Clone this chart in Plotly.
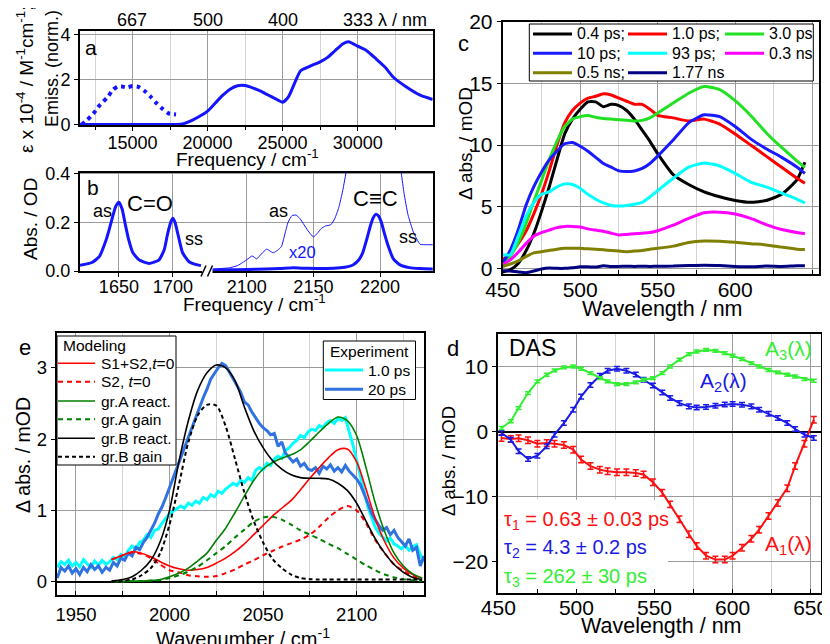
import plotly.graph_objects as go

# page body has an 8 px default margin; figure is sized so that it fills the 830x644 window
OFF = 8
W, H = 830 - OFF, 644 - OFF
def PX(x): return (x - OFF) / W
def PY(y): return 1 - (y - OFF) / H

FONT = "Liberation Sans, Arial, Helvetica, sans-serif"
GRID = "#9b9b9b"
MINOR = "#d3d3d3"
BLUE = "#1414ff"

# ================= (a) UV-vis absorption / emission =================
a_abs_freq = [11500, 14000, 16500, 17800, 18400, 19000, 19500, 20000, 20500, 21000, 21500, 22000, 22500,
              23000, 23500, 24000, 24500, 25000, 25400, 25800, 26200, 26800, 27500, 28000, 28500, 29000,
              29400, 30000, 30600, 31200, 31800, 32400, 33200, 34200, 35000]
a_abs_val = [0.0, 0.0, 0.0, 0.0, 0.04, 0.2, 0.38, 0.6, 0.95, 1.3, 1.58, 1.73, 1.74,
             1.64, 1.5, 1.33, 1.16, 1.0, 1.25, 1.85, 2.4, 2.6, 2.8, 3.0, 3.3, 3.6,
             3.7, 3.5, 3.3, 2.95, 2.58, 2.1, 1.7, 1.3, 1.12]
a_em_freq = [11600, 12000, 12400, 12800, 13300, 13700, 14000, 14300, 14600, 15000, 15400, 15800, 16200,
             16600, 17000, 17400, 17900]
a_em_val = [0.0, 0.22, 0.5, 0.85, 1.2, 1.55, 1.7, 1.7, 1.66, 1.72, 1.68, 1.5, 1.25, 0.95, 0.7, 0.5, 0.45]
a_xticks = [15000, 20000, 25000, 30000]
a_xminor = [12500, 17500, 22500, 27500, 32500]
a_top_nm = ["667", "500", "400", "333"]

# ================= (b) IR absorption =================
b_co_freq = [1614, 1625, 1632, 1638, 1641, 1644, 1647, 1650, 1653, 1656, 1659, 1663, 1669, 1678, 1687, 1692,
             1695, 1698, 1700, 1702, 1705, 1709, 1715, 1720, 1726]
b_co_abs = [0.024, 0.035, 0.06, 0.125, 0.17, 0.22, 0.265, 0.283, 0.255, 0.19, 0.13, 0.075, 0.045, 0.031, 0.045,
            0.087, 0.15, 0.2, 0.217, 0.2, 0.145, 0.075, 0.038, 0.028, 0.022]
b_cc_freq = [2073, 2085, 2100, 2115, 2125, 2135, 2145, 2160, 2170, 2176, 2180, 2184, 2187, 2190, 2193, 2195,
             2197, 2199, 2201, 2203, 2206, 2210, 2215, 2222, 2230, 2240]
b_cc_abs = [0.004, 0.005, 0.006, 0.008, 0.01, 0.013, 0.011, 0.01, 0.013, 0.018, 0.026, 0.045, 0.075, 0.13,
            0.19, 0.22, 0.233, 0.225, 0.2, 0.16, 0.105, 0.05, 0.025, 0.014, 0.01, 0.008]
b_x20_freq = [2073, 2080, 2087, 2093, 2097, 2101, 2104, 2107.5, 2111, 2115, 2118, 2120, 2123, 2126, 2129,
              2131, 2134, 2137, 2140, 2143, 2146, 2150, 2153, 2156, 2159, 2163, 2166, 2169, 2172, 2175,
              2178, 2183, 2188, 2193, 2197, 2201, 2206, 2210, 2213, 2216, 2218, 2221, 2225, 2230, 2235, 2240]
b_x20_abs = [0.006, 0.01, 0.013, 0.022, 0.035, 0.05, 0.062, 0.05, 0.07, 0.09, 0.08, 0.075, 0.085, 0.1, 0.16,
             0.2, 0.228, 0.23, 0.215, 0.19, 0.165, 0.14, 0.155, 0.175, 0.185, 0.19, 0.215, 0.26, 0.33, 0.42,
             0.5, 0.9, 1.8, 3.9, 4.6, 4.0, 2.1, 0.9, 0.55, 0.4, 0.32, 0.23, 0.16, 0.11, 0.108, 0.108]

# ================= (c) transient absorption spectra =================
c_wl = [450, 455, 460, 465, 470, 475, 480, 485, 490, 495, 500, 505, 510, 515, 520, 525, 530, 535, 540, 545,
        550, 560, 570, 580, 590, 600, 610, 620, 630, 640, 645]
c_names = ["0.4 ps;", "1.0 ps;", "3.0 ps", "10 ps;", "93 ps;", "0.3 ns", "0.5 ns;", "1.77 ns"]
c_colors = ["#000000", "#ff0000", "#22e022", "#1a1aff", "#00ffff", "#ff00ff", "#808000", "#000080"]
c_0p4ps = [-0.3, -0.1, 0.4, 1.4, 2.8, 4.6, 6.6, 8.8, 10.9, 12.1, 12.9, 13.5, 13.5, 13.1, 13.3, 13.2, 12.8,
           12.1, 11.2, 10.3, 9.3, 7.6, 6.8, 6.2, 5.8, 5.5, 5.35, 5.5, 6.0, 7.2, 8.6]
c_1p0ps = [0.7, 1.2, 2.0, 3.0, 4.4, 6.0, 7.9, 10.0, 11.8, 12.8, 13.4, 13.8, 13.95, 14.15, 14.05, 13.8, 13.55,
           13.3, 13.3, 12.9, 12.4, 12.2, 11.95, 12.1, 11.7, 10.9, 10.0, 9.1, 8.2, 7.3, 6.9]
c_3p0ps = [0.4, 1.0, 2.1, 3.6, 5.4, 7.1, 8.8, 10.3, 11.5, 12.1, 12.3, 12.4, 12.25, 12.15, 12.1, 12.05, 12.0,
           11.95, 12.0, 12.2, 12.6, 13.4, 14.2, 14.75, 14.5, 13.6, 12.4, 11.0, 9.8, 8.7, 8.2]
c_10ps = [0.4, 1.5, 3.1, 5.1, 6.6, 7.8, 8.8, 9.5, 10.1, 10.2, 9.9, 9.5, 9.0, 8.5, 8.2, 7.9, 7.85, 7.9, 8.1,
          8.5, 9.1, 10.4, 11.8, 12.45, 12.3, 11.5, 10.5, 9.7, 9.0, 8.2, 7.7]
c_93ps = [1.1, 1.1, 2.6, 4.2, 5.3, 6.0, 6.2, 6.6, 6.85, 6.8, 6.5, 6.0, 5.6, 5.3, 5.1, 5.05, 5.1, 5.2, 5.35,
          5.8, 6.3, 7.3, 8.2, 8.55, 8.3, 7.7, 7.0, 6.6, 6.1, 5.6, 5.3]
c_0p3ns = [0.3, 0.7, 1.3, 2.0, 2.6, 2.9, 3.1, 3.3, 3.4, 3.4, 3.35, 3.2, 3.1, 3.0, 2.85, 2.7, 2.75, 2.8, 2.85,
           2.9, 3.05, 3.5, 4.05, 4.5, 4.55, 4.4, 4.05, 3.55, 3.15, 2.9, 2.8]
c_0p5ns = [0.15, 0.35, 0.6, 0.95, 1.25, 1.35, 1.45, 1.55, 1.62, 1.63, 1.62, 1.58, 1.55, 1.5, 1.45, 1.4, 1.35,
           1.4, 1.45, 1.55, 1.62, 1.8, 2.1, 2.22, 2.2, 2.12, 2.0, 1.9, 1.72, 1.55, 1.52]
c_1p77ns = [-0.2, -0.22, -0.3, -0.35, -0.22, -0.05, 0.03, 0.0, 0.0, 0.05, 0.12, 0.12, 0.1, 0.2, 0.15, 0.15,
            0.17, 0.15, 0.17, 0.15, 0.17, 0.18, 0.22, 0.25, 0.22, 0.15, 0.12, 0.18, 0.15, 0.2, 0.2]
c_series = [c_0p4ps, c_1p0ps, c_3p0ps, c_10ps, c_93ps, c_0p3ns, c_0p5ns, c_1p77ns]

# ================= (e) IR transient spectra + modeling =================
e_wn = [1940, 1942, 1944, 1946, 1948, 1950, 1952, 1954, 1956, 1958, 1960, 1962, 1964, 1966, 1968, 1970,
        1972, 1974, 1976, 1978, 1980, 1982, 1984, 1986, 1988, 1990, 1992, 1994, 1996, 1998, 2000, 2002,
        2004, 2006, 2008, 2010, 2012, 2014, 2016, 2018, 2020, 2022, 2024, 2026, 2028, 2030, 2032, 2034,
        2036, 2038, 2040, 2042, 2044, 2046, 2048, 2050, 2052, 2054, 2056, 2058, 2060, 2062, 2064, 2066,
        2068, 2070, 2072, 2074, 2076, 2078, 2080, 2082, 2084, 2086, 2088, 2090, 2092, 2094, 2096, 2098,
        2100, 2102, 2104, 2106, 2108, 2110, 2112, 2114, 2116, 2118, 2120, 2122, 2124, 2126, 2128, 2130,
        2132, 2134, 2136]
e_exp_1ps = [0.20, 0.28, 0.24, 0.30, 0.22, 0.27, 0.21, 0.31, 0.25, 0.20, 0.29, 0.23, 0.30, 0.24, 0.28, 0.34,
             0.31, 0.38, 0.35, 0.44, 0.50, 0.46, 0.55, 0.58, 0.66, 0.62, 0.72, 0.74, 0.82, 0.88, 0.95, 0.99,
             1.02, 1.06, 1.03, 1.10, 1.07, 1.13, 1.10, 1.18, 1.15, 1.22, 1.19, 1.27, 1.24, 1.30, 1.34, 1.38,
             1.35, 1.42, 1.39, 1.46, 1.42, 1.56, 1.60, 1.57, 1.66, 1.63, 1.72, 1.76, 1.73, 1.84, 1.88, 1.94,
             1.98, 2.05, 2.02, 2.10, 2.14, 2.12, 2.19, 2.16, 2.23, 2.26, 2.22, 2.29, 2.26, 2.30, 2.10, 1.92,
             1.70, 1.48, 1.25, 1.05, 0.90, 0.76, 0.68, 0.63, 0.57, 0.61, 0.53, 0.50, 0.46, 0.51, 0.44, 0.49,
             0.52, 0.38, 0.28]
e_exp_20ps = [0.05, 0.20, 0.15, 0.22, 0.12, 0.18, 0.10, 0.20, 0.14, 0.24, 0.17, 0.22, 0.13, 0.20, 0.16, 0.27,
              0.22, 0.33, 0.30, 0.40, 0.36, 0.48, 0.45, 0.55, 0.62, 0.72, 0.82, 0.95, 1.05, 1.18, 1.32, 1.45,
              1.60, 1.75, 1.88, 2.02, 2.16, 2.30, 2.45, 2.58, 2.70, 2.84, 2.92, 3.00, 3.06, 3.03, 2.94, 2.84,
              2.74, 2.66, 2.52, 2.48, 2.38, 2.30, 2.22, 2.16, 2.12, 2.06, 2.08, 1.90, 1.96, 1.80, 1.74, 1.68,
              1.72, 1.62, 1.66, 1.58, 1.56, 1.60, 1.52, 1.62, 1.58, 1.64, 1.55, 1.60, 1.54, 1.63, 1.55, 1.50,
              1.44, 1.36, 1.24, 1.10, 0.96, 0.86, 0.78, 0.72, 0.76, 0.66, 0.72, 0.62, 0.56, 0.50, 0.60, 0.44,
              0.48, 0.22, 0.36]
e_mod_wn = [1969, 1975, 1980, 1985, 1990, 1995, 2000, 2005, 2010, 2015, 2020, 2025, 2030, 2035, 2040, 2045,
            2050, 2055, 2060, 2065, 2070, 2075, 2080, 2085, 2090, 2095, 2100, 2105, 2110, 2115, 2120, 2125,
            2130, 2135]
e_s1s2 = [0.31, 0.37, 0.42, 0.40, 0.35, 0.28, 0.22, 0.18, 0.16, 0.17, 0.20, 0.26, 0.33, 0.42, 0.53, 0.66,
          0.79, 0.92, 1.03, 1.14, 1.29, 1.45, 1.60, 1.74, 1.85, 1.86, 1.68, 1.30, 0.88, 0.56, 0.33, 0.19,
          0.10, 0.05]
e_s2 = [0.31, 0.37, 0.41, 0.39, 0.33, 0.24, 0.16, 0.13, 0.09, 0.075, 0.07, 0.08, 0.12, 0.17, 0.24, 0.30,
        0.37, 0.43, 0.49, 0.54, 0.59, 0.66, 0.77, 0.90, 1.00, 1.06, 1.00, 0.82, 0.58, 0.40, 0.24, 0.15,
        0.08, 0.04]
e_grA_react = [0.0, 0.003, 0.006, 0.01, 0.016, 0.03, 0.07, 0.12, 0.19, 0.29, 0.40, 0.58, 0.75, 0.97, 1.20,
               1.42, 1.58, 1.67, 1.73, 1.78, 1.85, 1.97, 2.10, 2.22, 2.31, 2.26, 2.05, 1.60, 1.10, 0.70,
               0.40, 0.22, 0.11, 0.05]
e_grA_gain = [0.0, 0.003, 0.006, 0.01, 0.016, 0.025, 0.05, 0.09, 0.14, 0.21, 0.30, 0.40, 0.50, 0.62, 0.73,
              0.84, 0.90, 0.91, 0.87, 0.80, 0.72, 0.66, 0.60, 0.53, 0.47, 0.39, 0.31, 0.23, 0.16, 0.10,
              0.06, 0.035, 0.02, 0.01]
e_grB_react = [0.01, 0.03, 0.07, 0.16, 0.30, 0.56, 1.00, 1.68, 2.25, 2.68, 2.93, 3.04, 3.00, 2.82, 2.45,
               2.12, 1.88, 1.70, 1.58, 1.50, 1.46, 1.45, 1.45, 1.44, 1.38, 1.28, 1.10, 0.85, 0.60, 0.40,
               0.24, 0.13, 0.06, 0.03]
e_grB_gain = [0.0, 0.01, 0.03, 0.09, 0.19, 0.40, 0.80, 1.36, 1.95, 2.33, 2.48, 2.47, 2.18, 1.72, 1.25, 0.85,
              0.55, 0.32, 0.19, 0.10, 0.05, 0.035, 0.03, 0.03, 0.03, 0.03, 0.03, 0.03, 0.03, 0.03, 0.03,
              0.03, 0.03, 0.02]
e_mod_names = ["S1+S2,<i>t</i>=0", "S2, <i>t</i>=0", "gr.A react.", "gr.A gain", "gr.B react.", "gr.B gain"]
e_mod_colors = ["#ff0000", "#ff0000", "#008000", "#008000", "#000000", "#000000"]
e_mod_dash = ["solid", "5px,4px", "solid", "5px,4px", "solid", "4px,3px"]
e_mod_series = [e_s1s2, e_s2, e_grA_react, e_grA_gain, e_grB_react, e_grB_gain]
e_exp_names = ["1.0 ps", "20 ps"]
e_exp_colors = ["#00ffff", "#2f72e0"]
e_exp_series = [e_exp_1ps, e_exp_20ps]

# ================= (d) decay-associated spectra =================
d_wl = [452, 458, 463, 469, 475, 481, 486, 492, 498, 503, 509, 515, 520, 526, 532, 538, 543, 549, 555, 560,
        566, 572, 577, 583, 589, 595, 600, 606, 612, 617, 623, 629, 635, 640, 646, 652]
d_A1 = [-0.97, -1.13, -1.0, -1.33, -1.85, -1.74, -1.85, -2.05, -2.77, -4.3, -5.3, -5.85, -6.1, -6.26, -6.26,
        -6.36, -6.6, -7.8, -9.4, -11.2, -13.5, -15.8, -17.6, -19.1, -19.7, -19.7, -19.1, -17.9, -16.5, -15.1,
        -13.0, -11.0, -8.7, -5.3, -1.85, 1.85]
d_A2 = [-0.2, -1.23, -3.0, -4.2, -3.7, -2.26, -0.46, 1.33, 3.38, 5.4, 7.2, 8.6, 9.4, 9.7, 9.4, 8.8, 8.0, 7.1,
        6.05, 5.2, 4.4, 3.9, 3.74, 3.8, 4.0, 4.2, 4.26, 4.15, 3.9, 3.38, 2.77, 2.1, 1.33, 0.41, -0.46, -0.97]
d_A3 = [0.56, 1.6, 3.64, 5.95, 7.74, 8.77, 9.44, 9.9, 10.05, 9.7, 9.03, 8.26, 7.74, 7.33, 7.33, 7.6, 8.0, 8.26,
        9.03, 10.05, 11.1, 11.95, 12.36, 12.6, 12.46, 12.1, 11.7, 11.2, 10.56, 10.05, 9.5, 9.13, 8.77, 8.5,
        8.1, 7.85]
d_err = [0.5, 0.35, 0.22]
d_colors = ["#ff1010", "#1a1ae6", "#33ee33"]
d_series = [d_A1, d_A2, d_A3]

# ======================================================================
fig = go.Figure()

def line_trace(x, y, xa, ya, color, width, dash="solid", smooth=0.6):
    return go.Scatter(x=x, y=y, xaxis=xa, yaxis=ya, mode="lines", showlegend=False, hoverinfo="skip",
                      line=dict(color=color, width=width, dash=dash, shape="spline", smoothing=smooth))

# (a)
fig.add_trace(line_trace(a_em_freq, a_em_val, "x", "y", BLUE, 4, dash="4px,4px"))
fig.add_trace(line_trace(a_abs_freq, a_abs_val, "x", "y", BLUE, 3))
# (b)
fig.add_trace(line_trace(b_co_freq, b_co_abs, "x3", "y3", BLUE, 3, smooth=0.5))
fig.add_trace(line_trace(b_x20_freq, b_x20_abs, "x4", "y4", BLUE, 1, smooth=0.4))
fig.add_trace(line_trace(b_cc_freq, b_cc_abs, "x4", "y4", BLUE, 3, smooth=0.5))
# (c)
for vals, col in zip(c_series, c_colors):
    fig.add_trace(line_trace(c_wl, vals, "x5", "y5", col, 3, smooth=0.5))
# (e)
for vals, col in zip(e_exp_series, e_exp_colors):
    fig.add_trace(go.Scatter(x=e_wn, y=vals, xaxis="x6", yaxis="y6", mode="lines", showlegend=False,
                             hoverinfo="skip", line=dict(color=col, width=3)))
for vals, col, dsh in zip(e_mod_series, e_mod_colors, e_mod_dash):
    fig.add_trace(line_trace(e_mod_wn, vals, "x6", "y6", col, 1.6 if dsh == "solid" else 2, dash=dsh, smooth=0.8))
# (d)
for vals, col, err in zip(d_series, d_colors, d_err):
    fig.add_trace(go.Scatter(x=d_wl, y=vals, xaxis="x7", yaxis="y7", mode="lines", showlegend=False,
                             hoverinfo="skip", line=dict(color=col, width=2),
                             error_y=dict(type="constant", value=err, color=col, thickness=1.5, width=3)))

# ---------------- axes ----------------
def ax(size=18, **kw):
    d = dict(showline=True, linecolor="black", linewidth=2, mirror=True, showgrid=True, gridcolor=GRID,
             gridwidth=1, zeroline=False, ticks="outside", ticklen=4, tickcolor="black", tickwidth=1,
             tickfont=dict(family=FONT, size=size, color="black"), fixedrange=True, automargin=False,
             tickformat="d")
    d.update(kw)
    return d

fig.update_layout(
    xaxis=ax(domain=[PX(80), PX(432.7)], range=[11500, 35000], anchor="y", tickmode="array",
             tickvals=a_xticks, layer="below traces", ticklabelstandoff=-4,
             minor=dict(tickmode="array", tickvals=a_xminor, showgrid=True, gridcolor=MINOR, ticks="outside",
                        ticklen=3, tickcolor="black")),
    yaxis=ax(domain=[PY(125), PY(30.5)], range=[-0.02, 4.2], anchor="x", tickmode="array",
             tickvals=[0, 2, 4], layer="below traces"),
    xaxis3=ax(domain=[PX(80), PX(207)], range=[1614, 1731.6], anchor="y3", tickmode="array",
              tickvals=[1650, 1700], layer="below traces", ticklabelstandoff=-6),
    yaxis3=ax(domain=[PY(271), PY(172.5)], range=[0, 0.405], anchor="x3", mirror=False, tickmode="array",
              tickvals=[0, 0.2, 0.4], ticktext=["0.0", "0.2", "0.4"], layer="below traces", tickformat=None),
    xaxis4=ax(domain=[PX(207), PX(432.7)], range=[2070.2, 2239.5], anchor="y4", tickmode="array",
              tickvals=[2100, 2150, 2200], layer="below traces", ticklabelstandoff=-6),
    yaxis4=ax(domain=[PY(271), PY(172.5)], range=[0, 0.405], anchor="x4", side="right", mirror=False,
              showticklabels=False, ticks="", tickmode="array", tickvals=[0, 0.2, 0.4], layer="below traces",
              tickformat=None),
    xaxis5=ax(size=21, domain=[PX(502.7), PX(819.3)], range=[450, 654.3], anchor="y5", tickmode="array",
              tickvals=[450, 500, 550, 600, 650], ticks="inside", ticklabelstandoff=-4,
              minor=dict(tickmode="array", tickvals=[475, 525, 575, 625], showgrid=True, gridcolor=MINOR,
                         ticks="inside", ticklen=4, tickcolor="black")),
    yaxis5=ax(size=21, domain=[PY(274), PY(21.7)], range=[-0.46, 20], anchor="x5", tickmode="array",
              tickvals=[0, 5, 10, 15, 20]),
    xaxis6=ax(size=18.5, domain=[PX(56.7), PX(424)], range=[1939.7, 2136], anchor="y6", tickmode="array",
              tickvals=[1950, 2000, 2050, 2100], ticks="inside", ticklabelstandoff=2,
              minor=dict(tickmode="array", tickvals=[1975, 2025, 2075, 2125], showgrid=True, gridcolor=MINOR,
                         ticks="inside", ticklen=4, tickcolor="black")),
    yaxis6=ax(size=18.5, domain=[PY(595), PY(333.3)], range=[-0.187, 3.484], anchor="x6", tickmode="array",
              tickvals=[0, 1, 2, 3], zeroline=True, zerolinecolor="black", zerolinewidth=2),
    xaxis7=ax(size=21, domain=[PX(498.3), PX(820.7)], range=[450, 656.4], anchor="y7", tickmode="array",
              tickvals=[450, 500, 550, 600, 650], ticks="inside", ticklabelstandoff=-6,
              minor=dict(tickmode="array", tickvals=[475, 525, 575, 625], showgrid=True, gridcolor=MINOR,
                         ticks="inside", ticklen=4, tickcolor="black")),
    yaxis7=ax(size=21, domain=[PY(593.3), PY(334)], range=[-24.9, 15.05], anchor="x7", tickmode="array",
              tickvals=[-20, -10, 0, 10], zeroline=True, zerolinecolor="black", zerolinewidth=1.5),
)

# ---------------- annotations ----------------
anns = []
def ann(text, x, y, size, color="black", angle=0, xanchor="center", xref="paper"):
    anns.append(dict(text=text, x=x if xref != "paper" else PX(x), y=PY(y), xref=xref, yref="paper",
                     showarrow=False, textangle=angle, xanchor=xanchor, yanchor="middle",
                     font=dict(family=FONT, size=size, color=color)))

# (a)
ann("a", 91, 47, 21)
for nm in a_top_nm:
    ann(nm, 1e7 / float(nm), 20.5, 18, xref="x")
ann("λ / nm", 376, 20.5, 18, xanchor="left")
ann("ε x 10<sup>-4</sup> / M<sup>-1</sup>cm<sup>-1</sup>;", 25, 80, 19, angle=-90)
ann("Emiss. (norm.)", 52, 69, 18, angle=-90)
ann("Frequency / cm<sup>-1</sup>", 248, 158, 19)
# (b)
ann("b", 93, 188, 21)
ann("as", 102, 211, 18)
ann("C=O", 150, 203, 22)
ann("ss", 194, 239, 18)
ann("as", 278, 211, 18)
ann("x20", 302, 252, 16.5, color=BLUE)
ann("C≡C", 375, 198, 22)
ann("ss", 408, 237, 18)
ann("Abs. / OD", 30, 219, 19, angle=-90)
ann("Frequency / cm<sup>-1</sup>", 254, 303, 19)
# (c)
ann("c", 463, 43, 22)
ann("Δ abs. / mOD", 466, 144, 19, angle=-90)
ann("Wavelength / nm", 662, 309, 21.5)
# (e)
ann("e", 25, 347, 22)
ann("Δ abs. / mOD", 23, 455, 19.5, angle=-90)
ann("Wavenumber / cm<sup>-1</sup>", 243, 637, 20)
# (d)
ann("d", 453, 348, 22)
ann("DAS", 532, 348, 23)
ann("A<sub>3</sub>(λ)", 788, 350, 21, color=d_colors[2])
ann("A<sub>2</sub>(λ)", 723, 382, 21, color=d_colors[1])
ann("A<sub>1</sub>(λ)", 788, 545, 21, color=d_colors[0])
ann("τ<sub>1</sub> = 0.63 ± 0.03 ps", 502, 520, 20, color=d_colors[0], xanchor="left")
ann("τ<sub>2</sub> = 4.3 ± 0.2 ps", 502, 548, 20, color=d_colors[1], xanchor="left")
ann("τ<sub>3</sub> = 262 ± 30 ps", 502, 577, 20, color=d_colors[2], xanchor="left")
ann("Δ abs. / mOD", 448, 461, 18.5, angle=-90)
ann("Wavelength / nm", 661, 626, 21.5)

# ---------------- shapes ----------------
shapes = []
def pline(x0, y0, x1, y1, color="black", width=1, dash="solid"):
    shapes.append(dict(type="line", xref="paper", yref="paper", x0=PX(x0), y0=PY(y0), x1=PX(x1), y1=PY(y1),
                       line=dict(color=color, width=width, dash=dash), layer="above"))
def prect(x0, y0, x1, y1, fill="white", lw=1, lc="black"):
    shapes.append(dict(type="rect", xref="paper", yref="paper", x0=PX(x0), y0=PY(y0), x1=PX(x1), y1=PY(y1),
                       fillcolor=fill, line=dict(color=lc, width=lw), layer="above"))

# broken axis marks (b)
prect(202, 267, 212.5, 275, lw=0, lc="white")
pline(201, 276.5, 206, 265.5, width=1.5)
pline(207.5, 276.5, 212.5, 265.5, width=1.5)

# white box behind tau labels (d)
shapes.append(dict(type="rect", xref="x7", yref="y7", x0=450, x1=558.6, y0=-24.9, y1=-10.5,
                   fillcolor="white", line=dict(width=0), layer="between"))

# legend (c)
prect(529.3, 24, 813.3, 81)
c_col_x = [533, 628, 725]
c_row_y = [34, 53.3, 72.7]
for i, (nm, col) in enumerate(zip(c_names, c_colors)):
    r, cidx = divmod(i, 3)
    x0 = c_col_x[cidx]
    pline(x0, c_row_y[r], x0 + 39, c_row_y[r], color=col, width=3)
    ann(nm, x0 + 42, c_row_y[r], 16, xanchor="left")

# legend "Modeling" (e)
prect(57, 336, 176, 465)
ann("Modeling", 61, 345, 15.5, xanchor="left")
e_row_y = [363.3, 381.7, 401, 419.3, 438.3, 456.7]
for nm, col, dsh, yy in zip(e_mod_names, e_mod_colors, e_mod_dash, e_row_y):
    pline(58, yy, 95, yy, color=col, width=1.6 if dsh == "solid" else 2, dash=dsh)
    ann(nm, 99, yy, 15.5, xanchor="left")

# legend "Experiment" (e)
prect(323.3, 341, 415.5, 399.5)
ann("Experiment", 369, 351, 15.5)
for nm, col, yy in zip(e_exp_names, e_exp_colors, [370, 389.3]):
    pline(325, yy, 363, yy, color=col, width=3)
    ann(nm, 366, yy, 15.5, xanchor="left")

fig.update_layout(
    width=W, height=H, margin=dict(l=0, r=0, t=0, b=0, pad=0, autoexpand=False),
    paper_bgcolor="white", plot_bgcolor="white", showlegend=False,
    annotations=anns, shapes=shapes,
    font=dict(family=FONT, color="black"),
)

fig.write_html("out.html")
